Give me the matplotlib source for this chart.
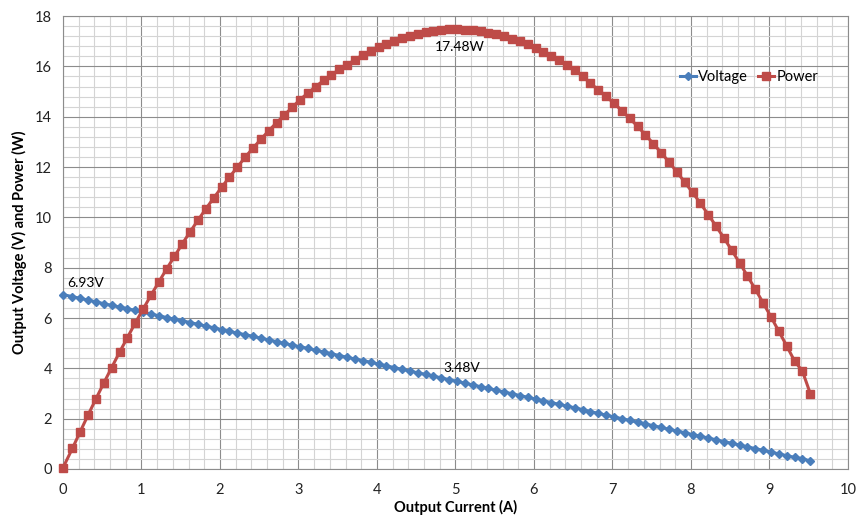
import matplotlib.pyplot as plt
from matplotlib.ticker import MultipleLocator

plt.rcParams['font.family'] = ['Lato', 'DejaVu Sans']

# measured points (A, V, W)
current = [0.00, 0.12, 0.22, 0.32, 0.42, 0.52, 0.62, 0.72, 0.82, 0.92,
           1.02, 1.12, 1.22, 1.32, 1.42, 1.52, 1.62, 1.72, 1.82, 1.92,
           2.02, 2.12, 2.22, 2.32, 2.42, 2.52, 2.62, 2.72, 2.82, 2.92,
           3.02, 3.12, 3.22, 3.32, 3.42, 3.52, 3.62, 3.72, 3.82, 3.92,
           4.02, 4.12, 4.22, 4.32, 4.42, 4.52, 4.62, 4.72, 4.82, 4.92,
           5.02, 5.12, 5.22, 5.32, 5.42, 5.52, 5.62, 5.72, 5.82, 5.92,
           6.02, 6.12, 6.22, 6.32, 6.42, 6.52, 6.62, 6.72, 6.82, 6.92,
           7.02, 7.12, 7.22, 7.32, 7.42, 7.52, 7.62, 7.72, 7.82, 7.92,
           8.02, 8.12, 8.22, 8.32, 8.42, 8.52, 8.62, 8.72, 8.82, 8.92,
           9.02, 9.12, 9.22, 9.32, 9.42, 9.52]

voltage = [6.93, 6.85, 6.78, 6.71, 6.64, 6.57, 6.50, 6.44, 6.37, 6.30,
           6.23, 6.16, 6.09, 6.02, 5.95, 5.89, 5.82, 5.75, 5.68, 5.61,
           5.54, 5.47, 5.40, 5.34, 5.27, 5.20, 5.13, 5.06, 4.99, 4.92,
           4.86, 4.79, 4.72, 4.65, 4.58, 4.51, 4.44, 4.37, 4.31, 4.24,
           4.17, 4.10, 4.03, 3.96, 3.89, 3.82, 3.76, 3.69, 3.62, 3.55,
           3.48, 3.41, 3.34, 3.27, 3.20, 3.13, 3.06, 2.99, 2.92, 2.85,
           2.78, 2.71, 2.64, 2.57, 2.50, 2.43, 2.36, 2.28, 2.21, 2.14,
           2.07, 2.00, 1.93, 1.86, 1.79, 1.72, 1.65, 1.58, 1.51, 1.44,
           1.37, 1.30, 1.23, 1.16, 1.09, 1.02, 0.95, 0.88, 0.81, 0.74,
           0.67, 0.60, 0.53, 0.46, 0.41, 0.32]

power = [0.05, 0.82, 1.49, 2.15, 2.79, 3.42, 4.03, 4.64, 5.22, 5.80,
         6.35, 6.90, 7.43, 7.95, 8.45, 8.95, 9.43, 9.89, 10.34, 10.77,
         11.19, 11.60, 11.99, 12.39, 12.75, 13.10, 13.44, 13.76, 14.07, 14.37,
         14.68, 14.94, 15.20, 15.44, 15.66, 15.88, 16.07, 16.26, 16.46, 16.62,
         16.76, 16.89, 17.01, 17.11, 17.19, 17.27, 17.37, 17.42, 17.45, 17.47,
         17.48, 17.46, 17.43, 17.40, 17.34, 17.28, 17.20, 17.10, 16.99, 16.87,
         16.74, 16.59, 16.42, 16.24, 16.05, 15.84, 15.62, 15.32, 15.07, 14.81,
         14.53, 14.24, 13.93, 13.62, 13.28, 12.93, 12.57, 12.20, 11.81, 11.40,
         10.99, 10.56, 10.11, 9.65, 9.18, 8.69, 8.19, 7.67, 7.14, 6.60,
         6.04, 5.47, 4.89, 4.29, 3.89, 3.00]

labels = ["6.93V", "17.48W", "3.48V"]
label_pos = [(0.06, 7.38), (5.06, 16.76), (5.08, 4.0)]

fig = plt.figure(figsize=(8.56, 5.18), dpi=100)
ax = fig.add_axes([0.0736, 0.0946, 0.917, 0.8744])

ax.plot(current, voltage, color="#4A7EBB", linewidth=2.2, marker="D",
        markersize=4, label="Voltage", zorder=3, clip_on=False)
ax.plot(current, power, color="#BE4B48", linewidth=2.2, marker="s",
        markersize=6, label="Power", zorder=3, clip_on=False)

ax.text(*label_pos[0], labels[0], fontsize=10, ha="left", va="center")
ax.text(*label_pos[1], labels[1], fontsize=10, ha="center", va="center")
ax.text(*label_pos[2], labels[2], fontsize=10, ha="center", va="center")

ax.set_xlim(0, 10)
ax.set_ylim(0, 18)
ax.xaxis.set_major_locator(MultipleLocator(1))
ax.xaxis.set_minor_locator(MultipleLocator(0.2))
ax.yaxis.set_major_locator(MultipleLocator(2))
ax.yaxis.set_minor_locator(MultipleLocator(0.4))

ax.grid(True, which="major", color="#8c8c8c", linewidth=0.8, zorder=0)
ax.grid(True, which="minor", color="#d4d4d4", linewidth=0.8, zorder=0)
ax.set_axisbelow(True)
ax.tick_params(which="both", length=0, labelsize=10.5, colors="#222222")
ax.tick_params(axis="x", pad=10)
ax.tick_params(axis="y", pad=8)
for s in ax.spines.values():
    s.set_color("#8c8c8c")
    s.set_linewidth(0.8)

ax.set_xlabel("Output Current (A)", fontsize=10.5, fontweight="bold", labelpad=2)
ax.set_ylabel("Output Voltage (V) and Power (W)", fontsize=10.5,
              fontweight="bold", labelpad=6)

ax.legend(loc="center", bbox_to_anchor=(0.874, 0.866), ncol=2, frameon=False,
          fontsize=10.5, handlelength=1.1, handletextpad=0.15, columnspacing=0.7,
          markerscale=0.9)

fig.savefig("out.png", dpi=100)
